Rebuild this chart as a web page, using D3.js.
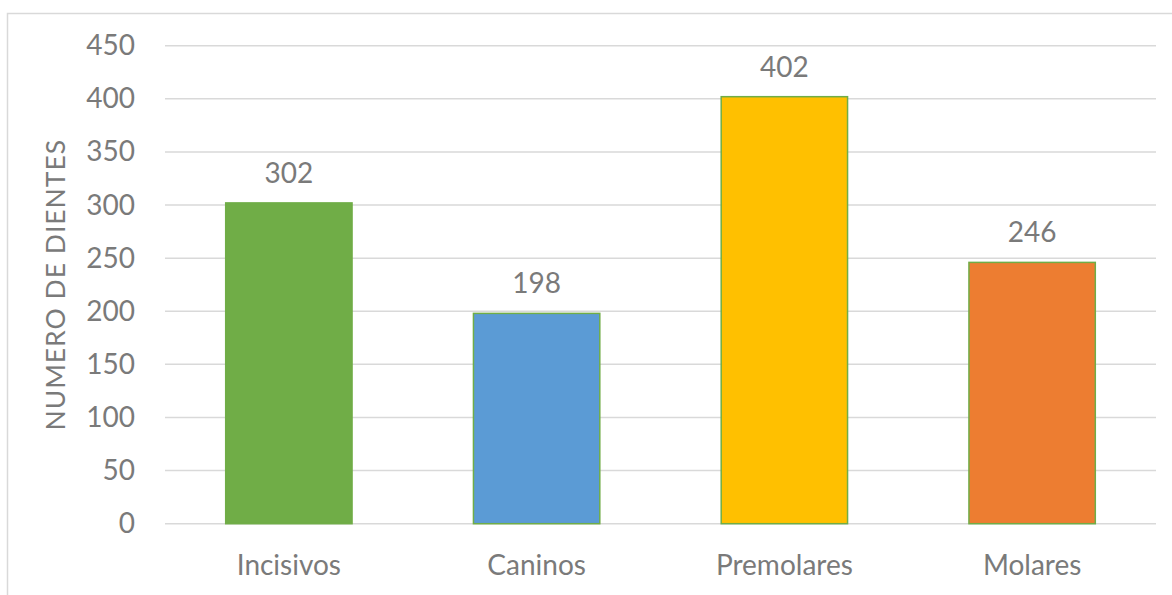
<!DOCTYPE html>
<html>
<head>
<meta charset="utf-8">
<script src="https://cdn.jsdelivr.net/npm/d3@7"></script>
<style>
  html, body { margin: 0; padding: 0; background: #fff; }
  svg { display: block; }
  text { font-family: Lato, "Open Sans", sans-serif; fill: #7a7a7a; }
</style>
</head>
<body>
<svg id="chart" width="1172" height="595"></svg>
<script>
const categories = ["Incisivos", "Caninos", "Premolares", "Molares"];
const values = [302, 198, 402, 246];
const barColors = ["#70AD47", "#5B9BD5", "#FFC000", "#ED7D31"];
const yTicks = [0, 50, 100, 150, 200, 250, 300, 350, 400, 450];
const yTitle = "NUMERO DE DIENTES";

const svg = d3.select("#chart");
const plot = { left: 165, right: 1156, top: 45.7, bottom: 523.7 };

// outer chart border
svg.append("rect")
  .attr("x", 7.5).attr("y", 13.5)
  .attr("width", 1300).attr("height", 800)
  .attr("fill", "none").attr("stroke", "#d9d9d9").attr("stroke-width", 1.5);

const x = d3.scaleBand()
  .domain(categories)
  .range([plot.left, plot.right])
  .paddingInner(0.49)
  .paddingOuter(0.245);

const y = d3.scaleLinear()
  .domain([0, 450])
  .range([plot.bottom, plot.top]);

// gridlines
svg.append("g").selectAll("line")
  .data(yTicks)
  .join("line")
  .attr("x1", plot.left).attr("x2", plot.right)
  .attr("y1", d => y(d)).attr("y2", d => y(d))
  .attr("stroke", "#d9d9d9").attr("stroke-width", 1.5);

// y-axis tick labels
const yAxis = d3.axisLeft(y).tickValues(yTicks).tickSize(0).tickPadding(0);
const gy = svg.append("g").attr("transform", `translate(135,0)`).call(yAxis);
gy.select(".domain").remove();
gy.selectAll("text")
  .attr("font-family", "Lato, 'Open Sans', sans-serif")
  .attr("font-size", 28)
  .attr("fill", "#7a7a7a");

// bars
svg.append("g").selectAll("rect")
  .data(values)
  .join("rect")
  .attr("x", (d, i) => x(categories[i]))
  .attr("y", d => y(d))
  .attr("width", x.bandwidth())
  .attr("height", d => y(0) - y(d))
  .attr("fill", (d, i) => barColors[i])
  .attr("stroke", "#70AD47")
  .attr("stroke-width", 1.5);

// data labels
svg.append("g").selectAll("text")
  .data(values)
  .join("text")
  .attr("x", (d, i) => x(categories[i]) + x.bandwidth() / 2)
  .attr("y", d => y(d) - 20)
  .attr("text-anchor", "middle")
  .attr("font-size", 28)
  .text(d => d);

// x-axis category labels
const xAxis = d3.axisBottom(x).tickSize(0).tickPadding(0);
const gx = svg.append("g").attr("transform", `translate(0,${plot.bottom})`).call(xAxis);
gx.select(".domain").remove();
gx.selectAll("text")
  .attr("font-family", "Lato, 'Open Sans', sans-serif")
  .attr("font-size", 28)
  .attr("fill", "#7a7a7a")
  .attr("dy", null)
  .attr("y", 51);

// y-axis title
svg.append("text")
  .attr("transform", `translate(65,${(plot.top + plot.bottom) / 2}) rotate(-90)`)
  .attr("text-anchor", "middle")
  .attr("font-size", 26.5)
  .attr("letter-spacing", 1)
  .text(yTitle);
</script>
</body>
</html>
